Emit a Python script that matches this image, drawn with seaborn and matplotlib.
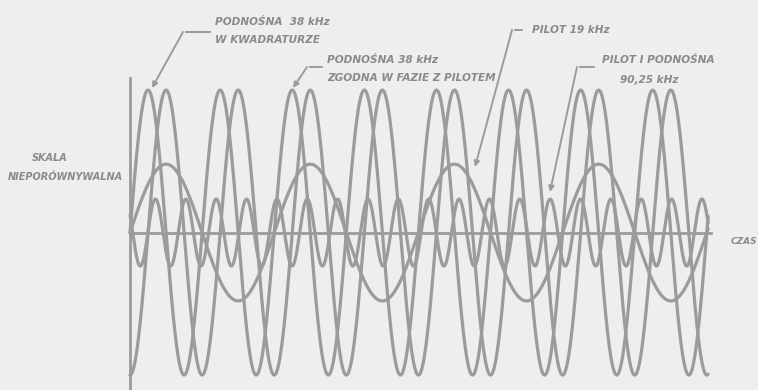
import numpy as np
import pandas as pd
import matplotlib.pyplot as plt
import seaborn as sns

# signals (time in microseconds, amplitude relative to 38 kHz subcarrier)
signal_names = ["podnosna_38_w_fazie", "podnosna_38_kwadratura", "pilot_19", "pilot_i_podnosna_90"]
freqs_khz = [38.0, 38.0, 19.0, 90.25]
amplitudes = [1.0, 1.0, 0.48, 0.235]
phases_deg = [0.0, -90.0, 0.0, 148.0]
t_end = 211.0
axis_end = 212.0

ink = "#9b9b9b"
paper = "#eeeeee"
text_col = "#8a8a8a"

t = np.linspace(0, t_end, 3000)
frames = []
for name, f, a, ph in zip(signal_names, freqs_khz, amplitudes, phases_deg):
    v = a * np.sin(2 * np.pi * f * 1e-3 * t + np.deg2rad(ph))
    frames.append(pd.DataFrame({"t": t, "v": v, "signal": name}))
df = pd.concat(frames, ignore_index=True)

sns.set_theme(style="white", rc={"figure.facecolor": paper, "axes.facecolor": paper})
plt.rcParams["font.family"] = ["DejaVu Sans"]

fig = plt.figure(figsize=(7.58, 3.90), dpi=100)
ax = fig.add_axes([0, 0, 1, 1])
sns.lineplot(data=df, x="t", y="v", hue="signal", palette=[ink] * 4,
             estimator=None, sort=False, legend=False, linewidth=2.3, ax=ax)

ax.set_xlim(-47.45, 229.2)
ax.set_ylim(-1.105, 1.632)
ax.set_xlabel("")
ax.set_ylabel("")
ax.set_xticks([])
ax.set_yticks([])
for s in ["top", "right"]:
    ax.spines[s].set_visible(False)
for s in ["left", "bottom"]:
    ax.spines[s].set_color(ink)
    ax.spines[s].set_linewidth(2.0)
    ax.spines[s].set_position(("data", 0))
ax.spines["left"].set_bounds(-1.105, 1.088)
ax.spines["bottom"].set_bounds(0, axis_end)

H = 390
txt = dict(color=text_col, fontsize=7.6, fontweight="bold", fontstyle="italic",
           ha="left", va="center")

def label(x, y, s, **kw):
    fig.text(x / 758, 1 - y / H, s, **{**txt, **kw})

label(215, 22, "PODNOŚNA  38 kHz")
label(215, 40, "W KWADRATURZE")
label(327, 60, "PODNOŚNA 38 kHz")
label(327, 78, "ZGODNA W FAZIE Z PILOTEM")
label(532, 30, "PILOT 19 kHz")
label(602, 60, "PILOT I PODNOŚNA")
label(620, 80, "90,25 kHz")
label(32, 158, "SKALA", fontsize=7)
label(8, 177, "NIEPORÓWNYWALNA", fontsize=7)
label(731, 242, "CZAS", fontsize=6.5)

# leader lines: short horizontal stub, then slanted line with an arrow to the curve
leaders = [((213, 32), (183, 32), (152, 88)),
           ((325, 67), (307, 67), (293, 88)),
           ((525, 30), (512, 30), (475, 167)),
           ((597, 67), (577, 67), (550, 192))]
for start, corner, tip in leaders:
    ax.annotate("", xy=(corner[0], H - corner[1]), xycoords="figure pixels",
                xytext=(start[0], H - start[1]), textcoords="figure pixels",
                arrowprops=dict(arrowstyle="-", color=ink, lw=1.4))
    ax.annotate("", xy=(tip[0], H - tip[1]), xycoords="figure pixels",
                xytext=(corner[0], H - corner[1]), textcoords="figure pixels",
                arrowprops=dict(arrowstyle="-|>", color=ink, lw=1.4,
                                mutation_scale=8, shrinkA=0, shrinkB=0))

fig.savefig("out.png", dpi=100, facecolor=paper)
